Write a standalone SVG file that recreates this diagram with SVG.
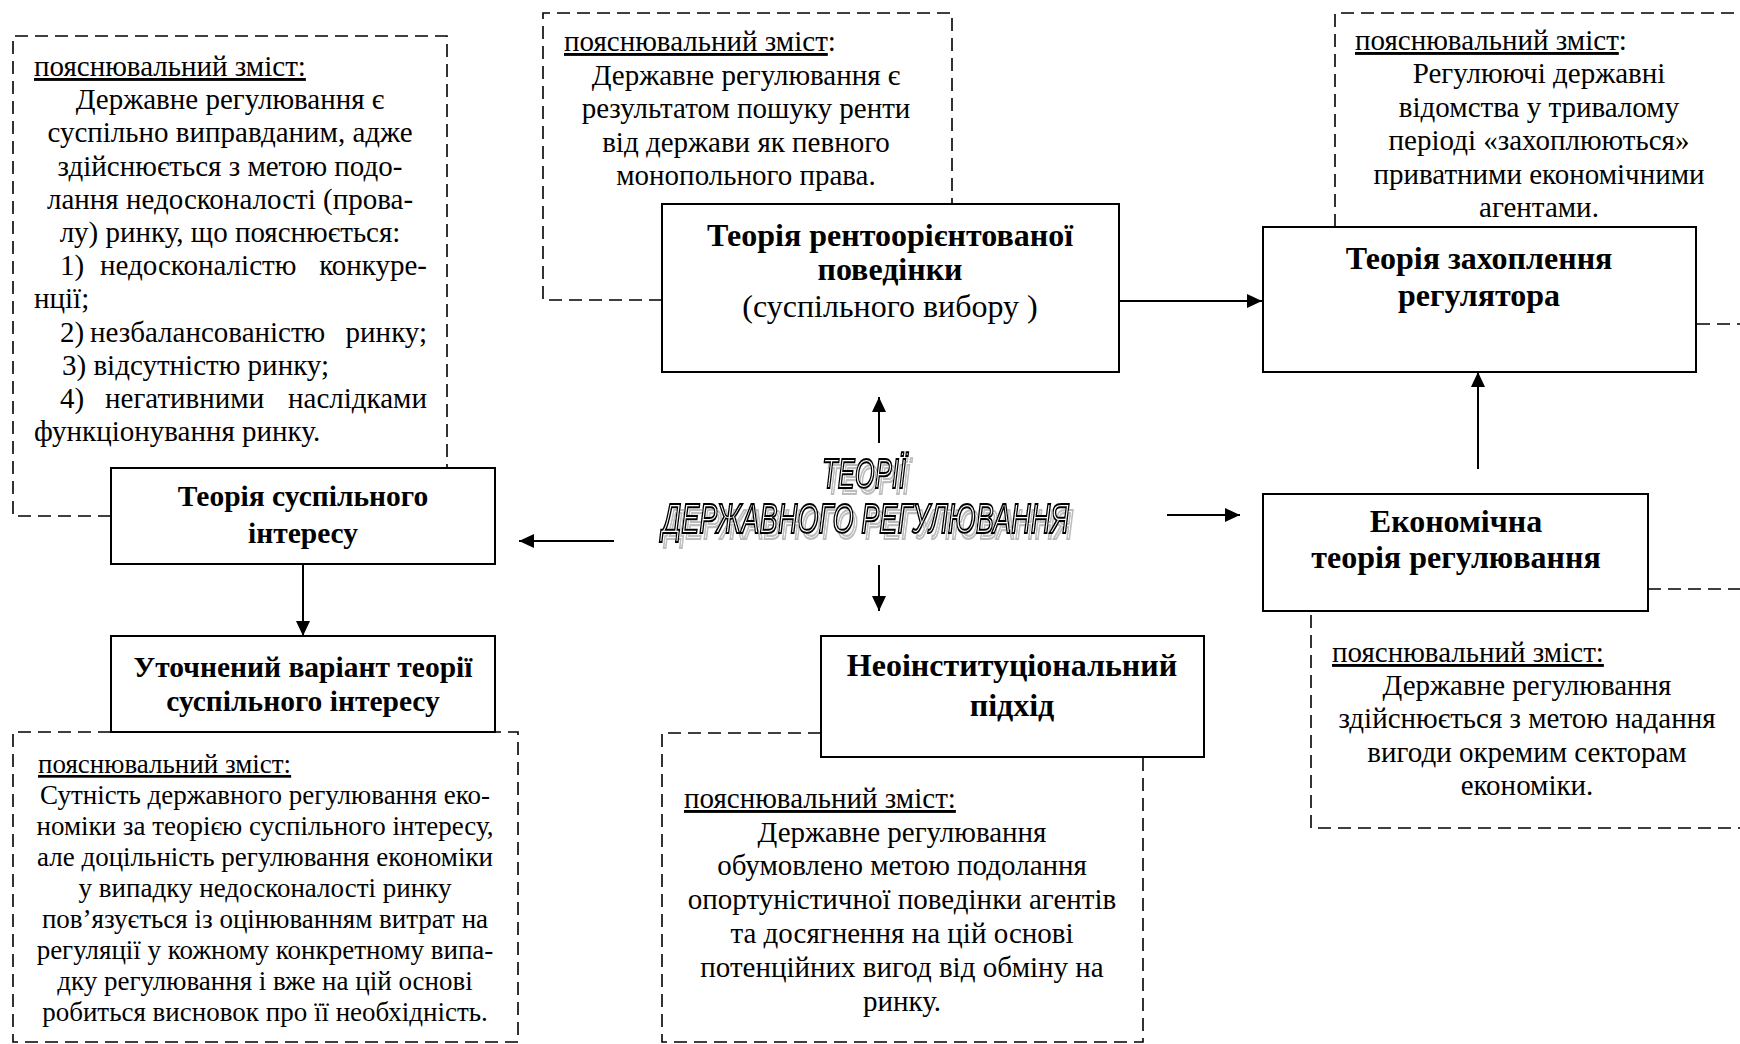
<svg xmlns="http://www.w3.org/2000/svg" width="1740" height="1044" viewBox="0 0 1740 1044">
<style>
text{font-family:"Liberation Serif","Times New Roman",serif;fill:#000}
.t{font-size:29px}
.s{font-size:27px}
.l{font-size:32px}
.b{font-size:29.5px;font-weight:bold}
.bl{font-size:32px;font-weight:bold}
.c{text-anchor:middle}
.e{text-anchor:end}
.u{text-decoration:underline}
.box{fill:#fff;stroke:#000;stroke-width:2}
.dash{fill:none;stroke:#000;stroke-width:1.6;stroke-dasharray:13 7}
.arr{fill:none;stroke:#000;stroke-width:2;marker-end:url(#ah)}
.wa text{font-family:"Liberation Sans",Arial,sans-serif;font-style:italic;font-size:42px;fill:#fff;stroke:#000;stroke-width:2}
</style>
<defs>
<marker id="ah" markerUnits="userSpaceOnUse" markerWidth="16" markerHeight="14" refX="15" refY="7" orient="auto">
<path d="M0,0 L15,7 L0,14 z" fill="#000"/>
</marker>
<!-- offset grey outline copy drawn under the heading letters -->
<filter id="drop" x="-5%" y="-30%" width="115%" height="170%">
<feOffset in="SourceGraphic" dx="4" dy="6" result="off"/>
<feColorMatrix in="off" type="matrix" values="0.45 0 0 0 0.5  0 0.45 0 0 0.5  0 0 0.45 0 0.5  0 0 0 1 0" result="grey"/>
<feMerge><feMergeNode in="grey"/><feMergeNode in="SourceGraphic"/></feMerge>
</filter>
</defs>
<rect width="1740" height="1044" fill="#fff"/>

<!-- explanatory note: public interest theory -->
<g id="note-public-interest">
<path class="dash" d="M111,516 H13 V36 H447 V468"/>
<text class="t" x="34" y="76"><tspan class="u">пояснювальний зміст:</tspan></text>
<text class="t c" x="230" y="109">Державне регулювання є</text>
<text class="t c" x="230" y="142">суспільно виправданим, адже</text>
<text class="t c" x="230" y="176">здійснюється з метою подо-</text>
<text class="t c" x="230" y="209">лання недосконалості (прова-</text>
<text class="t c" x="230" y="242">лу) ринку, що пояснюється:</text>
<text class="t" x="60" y="275">1)</text>
<text class="t" x="100" y="275">недосконалістю</text>
<text class="t e" x="427" y="275">конкуре-</text>
<text class="t" x="34" y="308">нції;</text>
<text class="t" x="60" y="342">2)</text>
<text class="t" x="90" y="342">незбалансованістю</text>
<text class="t e" x="427" y="342">ринку;</text>
<text class="t" x="62" y="375">3) відсутністю ринку;</text>
<text class="t" x="60" y="408">4)</text>
<text class="t" x="105" y="408">негативними</text>
<text class="t e" x="427" y="408">наслідками</text>
<text class="t" x="34" y="441">функціонування ринку.</text>
</g>

<!-- explanatory note: rent-seeking theory -->
<g id="note-rent-seeking">
<path class="dash" d="M662,300 H543 V13 H952 V204"/>
<text class="t" x="564" y="51"><tspan class="u">пояснювальний зміст</tspan>:</text>
<text class="t c" x="746" y="85">Державне регулювання є</text>
<text class="t c" x="746" y="118">результатом пошуку ренти</text>
<text class="t c" x="746" y="152">від держави як певного</text>
<text class="t c" x="746" y="185">монопольного права.</text>
</g>

<!-- explanatory note: regulatory capture -->
<g id="note-capture">
<path class="dash" d="M1335,227 V13 H1760 V324 H1696"/>
<text class="t" x="1355" y="50"><tspan class="u">пояснювальний зміст</tspan>:</text>
<text class="t c" x="1539" y="83">Регулюючі державні</text>
<text class="t c" x="1539" y="117">відомства у тривалому</text>
<text class="t c" x="1539" y="150">періоді «захоплюються»</text>
<text class="t c" x="1539" y="184">приватними економічними</text>
<text class="t c" x="1539" y="217">агентами.</text>
</g>

<!-- explanatory note: economic theory of regulation -->
<g id="note-economic">
<path class="dash" d="M1648,589 H1760 V828 H1311 V611"/>
<text class="t" x="1332" y="662"><tspan class="u">пояснювальний зміст:</tspan></text>
<text class="t c" x="1527" y="695">Державне регулювання</text>
<text class="t c" x="1527" y="728">здійснюється з метою надання</text>
<text class="t c" x="1527" y="762">вигоди окремим секторам</text>
<text class="t c" x="1527" y="795">економіки.</text>
</g>

<!-- explanatory note: refined public interest theory -->
<g id="note-refined">
<path class="dash" d="M111,732 H13 V1042 H518 V732 H495"/>
<text class="s" x="38" y="773"><tspan class="u">пояснювальний зміст:</tspan></text>
<text class="s c" x="265" y="804">Сутність державного регулювання еко-</text>
<text class="s c" x="265" y="835">номіки за теорією суспільного інтересу,</text>
<text class="s c" x="265" y="866">але доцільність регулювання економіки</text>
<text class="s c" x="265" y="897">у випадку недосконалості ринку</text>
<text class="s c" x="265" y="928">пов’язується із оцінюванням витрат на</text>
<text class="s c" x="265" y="959">регуляції у кожному конкретному випа-</text>
<text class="s c" x="265" y="990">дку регулювання і вже на цій основі</text>
<text class="s c" x="265" y="1021">робиться висновок про її необхідність.</text>
</g>

<!-- explanatory note: neo-institutional approach -->
<g id="note-neoinstitutional">
<path class="dash" d="M821,733 H662 V1042 H1143 V757"/>
<text class="t" x="684" y="808"><tspan class="u">пояснювальний зміст:</tspan></text>
<text class="t c" x="902" y="842">Державне регулювання</text>
<text class="t c" x="902" y="875">обумовлено метою подолання</text>
<text class="t c" x="902" y="909">опортуністичної поведінки агентів</text>
<text class="t c" x="902" y="943">та досягнення на цій основі</text>
<text class="t c" x="902" y="977">потенційних вигод від обміну на</text>
<text class="t c" x="902" y="1011">ринку.</text>
</g>

<!-- theory boxes -->
<g id="public-interest">
<rect class="box" x="111" y="468" width="384" height="96"/>
<text class="b c" x="303" y="506">Теорія суспільного</text>
<text class="b c" x="303" y="543">інтересу</text>
</g>
<g id="refined-public-interest">
<rect class="box" x="111" y="636" width="384" height="96"/>
<text class="b c" x="303" y="677">Уточнений варіант теорії</text>
<text class="b c" x="303" y="711">суспільного інтересу</text>
</g>
<g id="rent-seeking">
<rect class="box" x="662" y="204" width="457" height="168"/>
<text class="bl c" x="890" y="246">Теорія рентоорієнтованої</text>
<text class="bl c" x="890" y="280">поведінки</text>
<text class="l c" x="890" y="317">(суспільного вибору )</text>
</g>
<g id="capture">
<rect class="box" x="1263" y="227" width="433" height="145"/>
<text class="bl c" x="1479" y="269">Теорія захоплення</text>
<text class="bl c" x="1479" y="306">регулятора</text>
</g>
<g id="economic">
<rect class="box" x="1263" y="494" width="385" height="117"/>
<text class="bl c" x="1456" y="532">Економічна</text>
<text class="bl c" x="1456" y="568">теорія регулювання</text>
</g>
<g id="neoinstitutional">
<rect class="box" x="821" y="636" width="383" height="121"/>
<text class="bl c" x="1012" y="676">Неоінституціональний</text>
<text class="bl c" x="1012" y="716">підхід</text>
</g>

<!-- central heading -->
<g id="theories" class="wa" filter="url(#drop)">
<text x="822" y="488" textLength="84" lengthAdjust="spacingAndGlyphs">ТЕОРІЇ</text>
<text x="662" y="533" textLength="407" lengthAdjust="spacingAndGlyphs">ДЕРЖАВНОГО РЕГУЛЮВАННЯ</text>
</g>

<!-- connectors -->
<g id="connectors">
<path class="arr" d="M1119,301 H1262"/>
<path class="arr" d="M879,443 V397"/>
<path class="arr" d="M614,541 H519"/>
<path class="arr" d="M879,565 V611"/>
<path class="arr" d="M1167,515 H1240"/>
<path class="arr" d="M1478,469 V372"/>
<path class="arr" d="M303,564 V636"/>
</g>
</svg>
